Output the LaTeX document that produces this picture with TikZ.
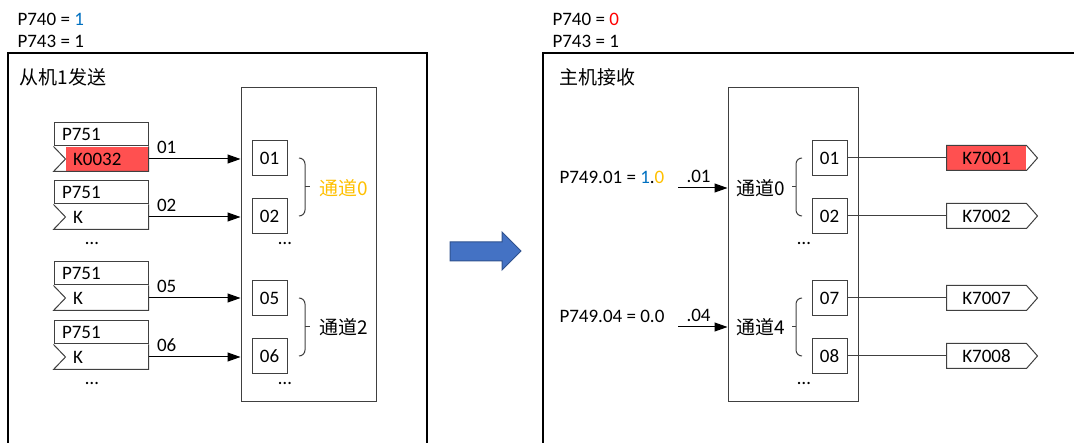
\documentclass[tikz,border=0pt]{standalone}
\usepackage{fontspec}
\setmainfont{Carlito}
\newfontfamily\cjk{Noto Sans CJK SC}
\usepackage{xcolor}
\usepackage{tikz}
\usetikzlibrary{positioning, arrows.meta}

\definecolor{kred}{RGB}{255,80,80}
\definecolor{pblue}{RGB}{0,112,192}
\definecolor{porange}{RGB}{255,192,0}
\definecolor{arrowblue}{RGB}{68,114,196}
\definecolor{arrowedge}{RGB}{47,82,143}
\definecolor{lgray}{RGB}{64,64,64}

\begin{document}
\begin{tikzpicture}[x=1pt, y=-1pt,
    font=\fontsize{19}{23}\selectfont,
    line width=1pt, draw=lgray,
    txt/.style={anchor=west, inner sep=0pt},
    parbox/.style={rectangle, draw, minimum height=23pt, text width=78pt, inner xsep=8pt, inner ysep=0pt, align=left},
    kbox/.style={rectangle, minimum height=24pt, text width=68pt, inner xsep=7pt, inner ysep=0pt, align=left},
    chbox/.style={rectangle, draw, minimum size=35pt, inner sep=0pt},
    ktag/.style={rectangle, minimum width=79pt, minimum height=24pt, inner sep=0pt},
    panel/.style={rectangle, draw, inner sep=0pt},
    outer/.style={draw=black, line width=1.3pt},
    arrow/.style={-{Triangle[length=13pt, width=9pt]}, draw=black},
    lbl/.style={anchor=south west, inner sep=5pt, xshift=3pt}
]
\useasboundingbox (0,0) rectangle (1074,443);

% Sender settings
\node[txt] (p740a) at (17,19) {P740 = \textcolor{pblue}{1}};
\node[txt] (p743a) at (17,41) {P743 = 1};
\draw[outer] (8,450) |- (427,53) -- (427,450);
\node[txt] (slave) at (19,77) {\cjk 从机1发送};

% Send block
\node[panel, minimum width=135pt, minimum height=314pt] (sendbox) at (308.5,245) {};

% Source parameters
\node[parbox] (par1) at (101,134.5) {P751};
\node[kbox, fill=kred, below left=0pt and 0pt of par1.south east] (k1) {K0032};
\node[parbox] (par2) at (101,192.5) {P751};
\node[kbox, below left=0pt and 0pt of par2.south east] (k2) {K};
\node[parbox] (par5) at (101,273.5) {P751};
\node[kbox, below left=0pt and 0pt of par5.south east] (k5) {K};
\node[parbox] (par6) at (101,332.5) {P751};
\node[kbox, below left=0pt and 0pt of par6.south east] (k6) {K};
\foreach \k in {k1,k2,k5,k6}
  \draw (\k.north east) -- (\k.south east) -- ([xshift=-12pt]\k.south west) -- (\k.west) -- ([xshift=-12pt]\k.north west);
\node (dl1) at (92,243) {…};
\node (dl2) at (92,383) {…};

% Send channels
\node[chbox] (s01) at (269.5,158) {01};
\node[chbox] (s02) at (269.5,216) {02};
\node[chbox] (s05) at (269.5,298) {05};
\node[chbox] (s06) at (269.5,356) {06};
\node (ds1) at (285,243) {…};
\node (ds2) at (285,383) {…};

% Arrows - parameters to send block
\draw[arrow] (k1.east) -- (k1.east -| sendbox.west) node[lbl, pos=0] {01};
\draw[arrow] (k2.east) -- (k2.east -| sendbox.west) node[lbl, pos=0] {02};
\draw[arrow] (k5.east) -- (k5.east -| sendbox.west) node[lbl, pos=0] {05};
\draw[arrow] (k6.east) -- (k6.east -| sendbox.west) node[lbl, pos=0] {06};

% Channel braces
\draw[rounded corners=6pt] (299,158) -- (305,158) -- (305,216) -- (299,216);
\draw (305,187) -- (310,187);
\node[txt, text=porange] (sc0) at (319,188) {\cjk 通道0};
\draw[rounded corners=6pt] (299,298) -- (305,298) -- (305,356) -- (299,356);
\draw (305,327) -- (310,327);
\node[txt] (sc2) at (319,327) {\cjk 通道2};

% Transfer arrow
\draw[fill=arrowblue, draw=arrowedge] (450,242) -- (502,242) -- (502,232) -- (521,251) -- (502,270) -- (502,261) -- (450,261) -- cycle;

% Receiver settings
\node[txt] (p740b) at (552,19) {P740 = \textcolor{red}{0}};
\node[txt] (p743b) at (552,41) {P743 = 1};
\draw[outer] (543,450) |- (1080,53);
\node[txt] (master) at (559,77) {\cjk 主机接收};

% Receive block
\node[panel, minimum width=130pt, minimum height=314pt] (recbox) at (793,245) {};

% Weights
\node[txt] (w01) at (559,177) {P749.01 = \textcolor{pblue}{1}.\textcolor{porange}{0}};
\coordinate (in01) at (678,188);
\draw[arrow] (in01) -- (in01 -| recbox.west) node[lbl, pos=0] {.01};
\node[txt] (rc0) at (736,188) {\cjk 通道0};
\node[txt] (w04) at (559,316) {P749.04 = 0.0};
\coordinate (in04) at (678,327);
\draw[arrow] (in04) -- (in04 -| recbox.west) node[lbl, pos=0] {.04};
\node[txt] (rc4) at (736,327) {\cjk 通道4};

\draw[rounded corners=6pt] (802,158) -- (796,158) -- (796,216) -- (802,216);
\draw (792,187) -- (796,187);
\draw[rounded corners=6pt] (802,298) -- (796,298) -- (796,356) -- (802,356);
\draw (792,327) -- (796,327);

% Receive channels
\node[chbox] (r01) at (829.5,158) {01};
\node[chbox] (r02) at (829.5,216) {02};
\node[chbox] (r07) at (829.5,298) {07};
\node[chbox] (r08) at (829.5,356) {08};
\node (dr1) at (804,243) {…};
\node (dr2) at (804,383) {…};

% Outputs
\node[ktag, fill=kred] (kout1) at (986.5,158) {K7001};
\node[ktag] (kout2) at (986.5,216) {K7002};
\node[ktag] (kout7) at (986.5,298) {K7007};
\node[ktag] (kout8) at (986.5,356) {K7008};
\foreach \k in {kout1,kout2,kout7,kout8}
  \draw (\k.north west) -- (\k.north east) -- ([xshift=11pt]\k.east) -- (\k.south east) -- (\k.south west) -- cycle;
\draw (r01.east) -- (kout1.west);
\draw (r02.east) -- (kout2.west);
\draw (r07.east) -- (kout7.west);
\draw (r08.east) -- (kout8.west);

\end{tikzpicture}
\end{document}
